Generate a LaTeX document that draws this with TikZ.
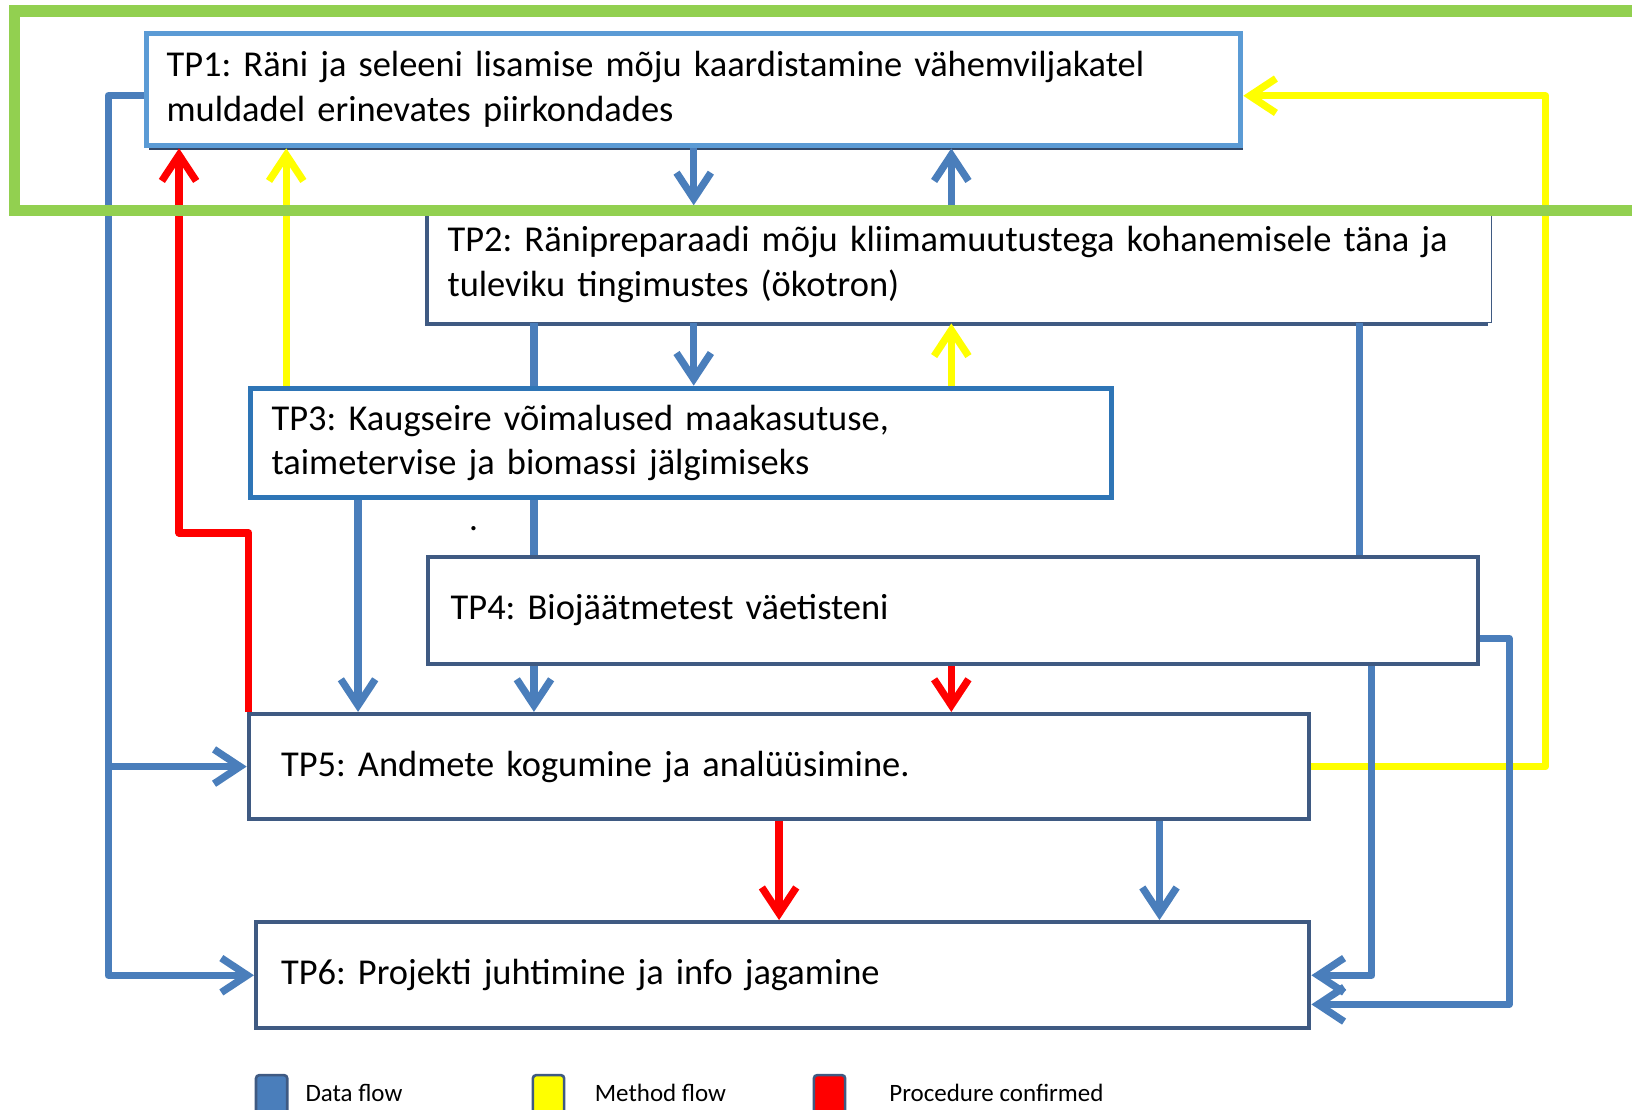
\documentclass[tikz,border=0pt]{standalone}
\usepackage{fontspec}
\setmainfont{Carlito}
\usetikzlibrary{arrows.meta,calc,shadows,positioning}

\definecolor{flowblue}{RGB}{74,126,187}
\definecolor{flowyellow}{RGB}{255,255,0}
\definecolor{flowred}{RGB}{255,0,0}
\definecolor{tpline}{RGB}{63,90,130}
\definecolor{tponeline}{RGB}{91,155,213}
\definecolor{tpthreeline}{RGB}{46,117,182}
\definecolor{framegreen}{RGB}{146,208,80}

\tikzset{
  box/.style={draw=tpline, line width=4pt, fill=white, align=left,
    font=\fontsize{35}{43}\selectfont\frenchspacing, inner ysep=0pt},
  dataline/.style={flowblue, line width=7pt, line join=round},
  data/.style={dataline, -{Straight Barb[length=25pt,width=33pt]}},
  method/.style={flowyellow, line width=7pt, line join=round,
    -{Straight Barb[length=25pt,width=33pt]}},
  proc/.style={flowred, line width=7pt, line join=round,
    -{Straight Barb[length=25pt,width=33pt]}},
  key/.style={draw=tpline, line width=2.5pt, rounded corners=3pt,
    minimum width=30pt, minimum height=38pt, inner sep=0pt},
  keytext/.style={anchor=west, font=\fontsize{24}{26}\selectfont}
}

\begin{document}
\begin{tikzpicture}[x=1pt,y=-1pt]
  \useasboundingbox (0,0) rectangle (1568,1066);
  \clip (0,0) rectangle (1568,1066);

  \coordinate (c_left) at (104,0);
  \coordinate (c_red) at (172,0);
  \coordinate (c_yel) at (275,0);
  \coordinate (c_tp3) at (344,0);
  \coordinate (c_tp2) at (513,0);
  \coordinate (c_mid) at (914,0);
  \coordinate (c_tp5) at (1114,0);
  \coordinate (c_tp4) at (1306,0);
  \coordinate (c_drop) at (1318,0);
  \coordinate (c_out) at (1450,0);
  \coordinate (c_back) at (1485,0);
  \coordinate (red_step) at (0,512);

  \node[box, draw=tponeline, line width=5pt, text width=1013pt, inner xsep=19pt,
    minimum height=108pt,
    drop shadow={shadow xshift=2pt, shadow yshift=-4pt, fill=tpline!80!black, opacity=1}]
    (tp1) at (666.5,86)
    {TP1: Räni ja seleeni lisamise mõju kaardistamine vähemviljakatel\\muldadel erinevates piirkondades};
  \node[box, line width=1.5pt, text width=984pt, inner xsep=19pt, minimum height=112pt,
    drop shadow={shadow xshift=-3pt, shadow yshift=-3pt, fill=tpline, opacity=1}]
    (tp2) at (922,254)
    {TP2: Ränipreparaadi mõju kliimamuutustega kohanemisele täna ja\\tuleviku tingimustes (ökotron)};
  \node[box, draw=tpthreeline, line width=5pt, text width=787pt, inner xsep=20pt,
    minimum height=105pt] (tp3) at (654.5,425.5)
    {TP3: Kaugseire võimalused maakasutuse,\\taimetervise ja biomassi jälgimiseks};
  \node[box, text width=965pt, inner xsep=22pt, minimum height=103pt] (tp4) at (915.5,586.5)
    {TP4: Biojäätmetest väetisteni};
  \node[box, text width=957pt, inner xsep=31pt, minimum height=101pt] (tp5) at (748.5,736.5)
    {TP5: Andmete kogumine ja analüüsimine.};
  \node[box, text width=964pt, inner xsep=24pt, minimum height=102pt] (tp6) at (752,937)
    {TP6: Projekti juhtimine ja info jagamine};

  \node[font=\fontsize{34}{34}\selectfont, inner sep=0pt] (stray_dot) at (455,508) {.};

  \coordinate (tp1_in) at ([yshift=-6pt]tp1.east);
  \coordinate (tp1_out) at ([yshift=-6pt]tp1.west);
  \coordinate (tp6_low) at ([yshift=-28pt]tp6.east);
  \coordinate (red_foot) at ([xshift=2pt]tp5.north west);

  % method flow
  \draw[method] (tp3.north -| c_yel) -- (tp1.south -| c_yel);
  \draw[method] (tp3.north -| c_mid) -- (tp2.south -| c_mid);
  \draw[method] (tp5.east) -| (c_back |- tp1_in) -- (tp1_in);

  % procedure confirmed
  \draw[proc] (red_foot) -- (red_foot |- red_step) -| (tp1.south -| c_red);
  \draw[proc] (tp4.south -| c_mid) -- (tp5.north -| c_mid);
  \draw[proc] (tp5.south) -- (tp6.north -| tp5.south);

  % data flow
  \draw[data] (tp1.south) -- (tp2.north -| tp1.south);
  \draw[data] (tp2.north -| c_mid) -- (tp1.south -| c_mid);
  \draw[data] (tp2.south -| tp1.south) -- (tp3.north -| tp1.south);
  \draw[dataline] (tp2.south -| c_tp2) -- (tp3.north -| c_tp2);
  \draw[dataline] (tp3.south -| c_tp2) -- (tp4.north -| c_tp2);
  \draw[data] (tp4.south -| c_tp2) -- (tp5.north -| c_tp2);
  \draw[data] (tp3.south -| c_tp3) -- (tp5.north -| c_tp3);
  \draw[dataline] (tp2.south -| c_tp4) -- (tp4.north -| c_tp4);
  \draw[data] (tp4.south -| c_drop) |- (tp6.east);
  \draw[data] ([yshift=-27pt]tp4.east) -| (c_out |- tp6_low) -- (tp6_low);
  \draw[data] (tp5.south -| c_tp5) -- (tp6.north -| c_tp5);
  \draw[data] (tp1_out) -| (c_left |- tp6.west) -- (tp6.west);
  \draw[data] (c_left |- tp5.west) -- (tp5.west);

  % legend
  \node[key, fill=flowblue] (key_data) at (261,1052) {};
  \node[keytext] (lbl_data) at (290,1050) {Data flow};
  \node[key, fill=flowyellow] (key_method) at (527,1052) {};
  \node[keytext] (lbl_method) at (568,1050) {Method flow};
  \node[key, fill=flowred] (key_proc) at (797,1052) {};
  \node[keytext] (lbl_proc) at (851,1050) {Procedure confirmed};

  \draw[framegreen, line width=11pt] (14,10.5) rectangle (1600,202);
\end{tikzpicture}
\end{document}
